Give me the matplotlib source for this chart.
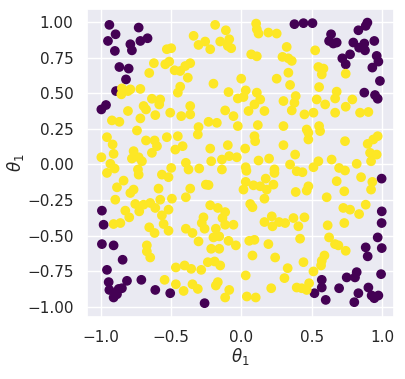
import matplotlib
matplotlib.use("Agg")
import matplotlib.pyplot as plt
import numpy as np
import seaborn as sns

# points outside the unit region (label 0, dark)
purple_x = [-0.938, -0.894, -0.948, -0.899, -0.730, -0.789, -0.718, -0.667, -0.778, -0.867,
            -0.801, -0.820, -0.891, -0.962, -0.995,
            0.376, 0.440, 0.504, 0.636, 0.622, 0.652, 0.676, 0.830, 0.894, 0.882,
            0.794, 0.835, 0.872, 0.877, 0.943, 0.771, 0.716, 0.740, 0.960, 0.972,
            0.929, 0.983, 0.872, 0.948, 0.967,
            -0.991, 0.995, 0.996,
            -0.979, -0.991, -0.908, -0.844, -0.955, -0.943, -0.938, -0.908, -0.884, -0.872,
            -0.849, -0.813, -0.711, -0.612, -0.506, -0.262,
            0.995, 0.967, 0.996, 0.882, 0.896, 0.991, 0.818, 0.806, 0.747, 0.570,
            0.570, 0.518, 0.693, 0.598, 0.901, 0.830, 0.924, 0.972, 0.943, 0.801]
purple_y = [0.980, 0.914, 0.867, 0.797, 0.961, 0.844, 0.867, 0.886, 0.801, 0.684,
            0.673, 0.597, 0.515, 0.417, 0.386,
            0.985, 0.992, 0.992, 0.914, 0.867, 0.849, 0.856, 0.942, 0.996, 0.973,
            0.856, 0.820, 0.849, 0.801, 0.867, 0.773, 0.745, 0.703, 0.762, 0.722,
            0.680, 0.586, 0.504, 0.487, 0.461,
            -0.325, -0.100, -0.330,
            -0.424, -0.560, -0.569, -0.670, -0.741, -0.827, -0.882, -0.935, -0.912, -0.875,
            -0.870, -0.818, -0.811, -0.882, -0.905, -0.975,
            -0.412, -0.513, -0.588, -0.583, -0.646, -0.771, -0.757, -0.794, -0.794, -0.811,
            -0.865, -0.905, -0.870, -0.952, -0.865, -0.905, -0.921, -0.921, -0.940, -0.968]

# points inside (label 1, bright)
yellow_x = [-0.530, -0.499, -0.541, -0.513, -0.622, -0.655, -0.475, -0.435, -0.399, -0.364,
            -0.381, -0.435, -0.452, -0.849, -0.853, -0.806, -0.789, -0.718, -0.636, -0.577,
            -0.584, -0.695, -0.678, -0.806, -0.364, -0.506,
            -0.187, -0.111, -0.340, -0.305, -0.258, -0.222, -0.151, -0.087, -0.097, -0.073,
            0.104, 0.109, 0.121, 0.191, 0.250, 0.069, 0.109, 0.321, 0.291, 0.333,
            0.357, -0.199, -0.002, 0.250, 0.333, 0.345, -0.092, 0.030, 0.109, 0.014,
            -0.026, 0.133, 0.092, 0.298, -0.116, 0.050, 0.163, 0.357,
            0.523, 0.546, 0.582, 0.570, 0.740, 0.551, 0.676, 0.665, 0.787, 0.385,
            0.376, 0.534, 0.594, 0.740, 0.511, 0.665, 0.842, 0.901, 0.447,
            -0.612, -0.428, -0.364, -0.920, -0.867, -0.718, -0.742, -0.955, -0.915, -0.908,
            -0.995, -0.931, -0.901, -0.955, -0.766, -0.778, -0.730, -0.707, -0.735, -0.730,
            -0.678, -0.617, -0.636, -0.600, -0.530, -0.452, -0.418, -0.470, -0.395, -0.376,
            -0.499, -0.565, -0.518, -0.837, -0.884, -0.766, -0.789, -0.589, -0.364, -0.896,
            -0.494, -0.577, -0.648, -0.695, -0.754, -0.612, -0.825, -0.726, -0.518, -0.395,
            -0.057, 0.298, -0.234, -0.175, -0.305, -0.310, -0.026, 0.116, 0.092, 0.097,
            -0.097, -0.222, 0.026, -0.215, -0.139, -0.087, -0.033, 0.121, 0.196, 0.298,
            0.345, 0.030, 0.035, 0.234, 0.234, -0.139, -0.300, -0.253, -0.234, 0.030,
            0.014, 0.085, 0.133, 0.172, 0.227, 0.179, 0.163, 0.062, 0.078, -0.222,
            -0.168, -0.116,
            0.463, 0.475, 0.551, 0.558, 0.475, 0.381, 0.392, 0.433, 0.511, 0.546,
            0.640, 0.693, 0.735, 0.735, 0.896, 0.936, 0.967, 0.913, 0.960, 0.920,
            0.818, 0.849, 0.929, 0.920, 0.676, 0.730, 0.475, 0.463, 0.385, 0.605,
            0.882, 0.723, 0.771, 0.835,
            -0.797, -0.908, -0.860, -0.565, -0.553, -0.518, -0.655, -0.617, -0.672, -0.672,
            -0.648, -0.466, -0.404, -0.357, -0.546, -0.466, -0.411, -0.395, -0.348,
            -0.270, -0.135, -0.282, -0.262, -0.116, -0.057, -0.182, -0.199, -0.158, -0.305,
            -0.092, -0.040, -0.215, -0.158, -0.239, -0.191, -0.151, -0.286, 0.055, 0.092,
            0.191, 0.078, 0.239, 0.328, 0.305, 0.030, -0.348, -0.310, -0.182, -0.168,
            -0.087, -0.116, 0.038, 0.101, 0.211, 0.163, 0.220, 0.215, 0.267, 0.310,
            0.369,
            0.447, 0.404, 0.612, 0.730, 0.416, 0.622, 0.664, 0.688, 0.740, 0.440,
            0.589, 0.570, 0.565, 0.511, 0.392, 0.428, 0.463, 0.480]
yellow_y = [0.809, 0.816, 0.703, 0.722, 0.711, 0.642, 0.661, 0.656, 0.691, 0.711,
            0.609, 0.546, 0.504, 0.534, 0.492, 0.515, 0.527, 0.530, 0.461, 0.456,
            0.421, 0.410, 0.386, 0.375, 0.410, 0.363,
            0.980, 0.942, 0.903, 0.839, 0.863, 0.809, 0.863, 0.879, 0.832, 0.816,
            0.989, 0.949, 0.919, 0.926, 0.919, 0.773, 0.759, 0.825, 0.755, 0.745,
            0.727, 0.567, 0.602, 0.602, 0.644, 0.558, 0.508, 0.520, 0.504, 0.473,
            0.463, 0.456, 0.421, 0.445, 0.379, 0.375, 0.375, 0.379,
            0.801, 0.684, 0.673, 0.632, 0.637, 0.543, 0.511, 0.463, 0.456, 0.480,
            0.433, 0.456, 0.421, 0.405, 0.363, 0.363, 0.363, 0.368, 0.351,
            0.346, 0.339, 0.351, 0.309, 0.299, 0.323, 0.238, 0.191, 0.140, 0.074,
            0.050, 0.004, -0.029, -0.060, 0.093, 0.041, 0.050, 0.022, -0.036, -0.072,
            0.168, 0.168, 0.081, 0.128, 0.191, 0.198, 0.128, 0.104, 0.011, -0.036,
            -0.025, -0.072, -0.090, -0.114, -0.161, -0.177, -0.201, -0.170, -0.170, -0.248,
            -0.241, -0.248, -0.271, -0.283, -0.278, -0.306, -0.325, -0.330, -0.318, -0.231,
            0.339, 0.269, 0.299, 0.292, 0.262, 0.210, 0.269, 0.276, 0.198, 0.163,
            0.135, 0.111, 0.111, 0.022, 0.034, 0.058, 0.050, 0.027, 0.041, 0.135,
            -0.001, -0.020, -0.045, -0.035, -0.060, -0.036, -0.029, -0.142, -0.145, -0.123,
            -0.177, -0.147, -0.154, -0.100, -0.142, -0.177, -0.241, -0.278, -0.301, -0.287,
            -0.306, -0.335,
            0.245, 0.222, 0.269, 0.234, 0.175, 0.069, -0.048, -0.055, -0.020, 0.022,
            0.034, -0.025, -0.043, 0.163, 0.144, 0.175, 0.198, 0.081, 0.069, 0.022,
            0.004, -0.090, -0.123, -0.177, -0.118, -0.189, -0.154, -0.184, -0.194, -0.231,
            -0.283, -0.306, -0.318, -0.349,
            -0.372, -0.419, -0.412, -0.358, -0.419, -0.466, -0.442, -0.482, -0.569, -0.611,
            -0.654, -0.724, -0.710, -0.734, -0.811, -0.842, -0.889, -0.452, -0.482,
            -0.372, -0.377, -0.412, -0.452, -0.424, -0.424, -0.452, -0.513, -0.506, -0.541,
            -0.537, -0.569, -0.593, -0.593, -0.687, -0.682, -0.710, -0.741, -0.537, -0.530,
            -0.560, -0.640, -0.654, -0.729, -0.799, -0.780, -0.842, -0.875, -0.851, -0.827,
            -0.882, -0.935, -0.928, -0.935, -0.870, -0.405, -0.435, -0.365, -0.405, -0.412,
            -0.377,
            -0.372, -0.435, -0.428, -0.412, -0.522, -0.513, -0.560, -0.569, -0.607, -0.687,
            -0.640, -0.677, -0.710, -0.752, -0.865, -0.870, -0.882, -0.835]

sns.set_theme()

x = np.array(purple_x + yellow_x)
y = np.array(purple_y + yellow_y)
label = np.array([0] * len(purple_x) + [1] * len(yellow_x))

fig = plt.figure(figsize=(4.06, 3.79), dpi=100)
ax = fig.add_axes([86.7 / 406, 62.3 / 379, 307.6 / 406, 308.2 / 379])
ax.scatter(x, y, c=label, cmap="viridis")
ax.set_xlim(-1.099, 1.085)
ax.set_ylim(-1.07, 1.095)
ax.set_xlabel(r"$\theta_1$", labelpad=1)
ax.set_ylabel(r"$\theta_1$", labelpad=1)
ax.set_xticks([-1.0, -0.5, 0.0, 0.5, 1.0])
ax.set_yticks(np.arange(-1.0, 1.01, 0.25))
fig.savefig("out.png", dpi=100)
